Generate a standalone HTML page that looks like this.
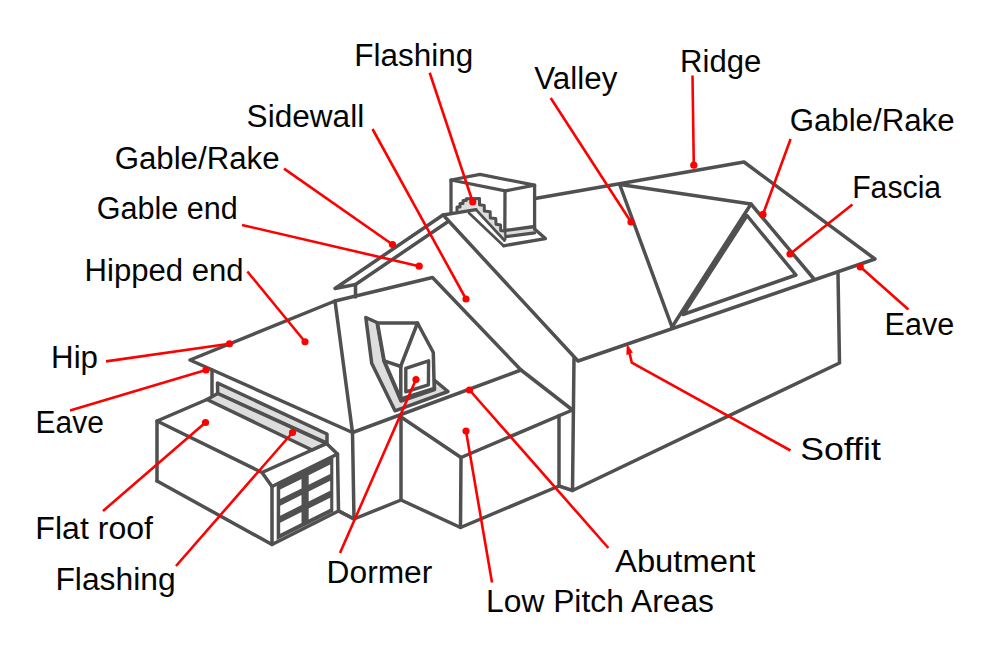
<!DOCTYPE html>
<html><head><meta charset="utf-8"><style>
html,body{margin:0;padding:0;background:#fff;width:1000px;height:660px;overflow:hidden}
svg{display:block}
</style></head><body>
<svg width="1000" height="660" viewBox="0 0 1000 660">
<rect width="1000" height="660" fill="#fff"/>
<g stroke="#505050" stroke-width="3.5" fill="none" stroke-linejoin="round" stroke-linecap="round">
<!-- main right section -->
<polyline points="535,198.5 744,162 875,259 578,361 445,217"/>
<polyline points="574,358 572.5,490.5 839.5,363 838,273.5"/>
<polyline points="619.5,184 672,327"/>
<polyline points="620,184.5 751,204 814,279"/>
<polyline points="751,204 672,327"/>
<polygon points="747,215.5 683,314.5 796,275"/>
<!-- left gable -->
<polyline points="447.5,222 355.5,284.5 335,288.5 443,215"/>
<polyline points="355.5,285 355.5,297"/>
<!-- hip roof -->
<polygon points="190,360 335,301 352.5,432.5"/>
<polyline points="335,301 432.5,277.5 521,370 352.5,432.5"/>
<polyline points="212,370 212,395"/>
<polyline points="352.5,432.5 354,519"/>
<polyline points="339,511 354,519 401,500"/>
<!-- low pitch -->
<polyline points="401,417 461,457.5 572.5,410 521,370"/>
<polyline points="401,417 401,500 460.5,527.5 559,486 572.5,490.5"/>
<polyline points="461,457.5 460.5,527.5"/>
<polyline points="559,415.5 559,486"/>
<!-- garage -->
<polygon points="217.5,383 327,434 327,443 217.7,393.5" fill="#ddd"/>
<polygon points="207,399.5 217.7,393.5 326.5,443.5 312,450" fill="#ddd"/>
<polyline points="157,481 157,421 207,399.5"/>
<polyline points="157,421 262,472.5 326.5,443.5 337.5,454 272,486.5 262,472.5"/>
<polyline points="272,486.5 272,544.5 338.5,511 337.5,454"/>
<polyline points="157,481 272,544.5"/>
<polyline points="338.5,511 354,519"/>
<!-- chimney -->
<g stroke-width="3.3">
<polygon points="469,213 503.5,245.8 545.4,238.6 534.6,229 505.4,231" fill="#fff" stroke="none"/>
<polygon points="505.4,231.5 534.6,227.5 534.6,232.9 505.4,236.7" fill="#ddd" stroke="none"/>
<polyline points="505.4,236.7 534.6,232.9"/>
<polyline points="469,213 503.5,245.8" stroke-width="2.7"/>
<polyline points="503.5,245.8 545.4,238.6 534.6,229"/>
<polygon points="451,180 480,174.4 534.6,185.2 505.4,190.9" fill="#fff"/>
<polyline points="451,180 451,212.5"/>
<polyline points="505,190.9 504.8,239"/>
<polyline points="534.6,185.2 534.6,229"/>
<polyline points="505.4,230.4 534.6,226.5"/>
<polygon points="457,210 457,207 460,207 460,203.5 463,203.5 463,200.5 466.2,200.5 466.2,198.8 479.5,198.5 479.5,204.7 484.3,205.4 484.3,211 490.2,211.7 490.3,218 495.8,218.6 496,224.2 500.6,225 500.7,230.5 504,231 504.5,240.5 476,209.6" fill="#ddd" stroke="none"/>
<polyline points="457,210.5 457,207 460,207 460,203.5 463,203.5 463,200.5 466.2,200.5 466.2,198.8 479.5,198.5 479.5,204.7 484.3,205.4 484.3,211 490.2,211.7 490.3,218 495.8,218.6 496,224.2 500.6,225 500.7,230.5 504,231" stroke-width="3"/>
<polyline points="443,215 476,209.6"/>
<polyline points="476,209.6 504.5,240.5" stroke-width="2.7"/>
</g>
<!-- dormer -->
<polygon points="365.8,317.5 377,322.5 384,361 401,401 434.5,389.5 434.2,380 448,391.5 395,410.8 371.7,363.3" fill="#ddd"/>
<polygon points="377.5,323 417.5,323 433.3,352.5 434.2,388.5 400.8,399 384.2,360.8" fill="#fff"/>
<polyline points="417.5,323 400.8,366 400.8,399"/>
<polyline points="384.2,360.8 400.8,366.5"/>
<polygon points="405.8,368.3 428.6,360.8 428.4,384.8 405.8,391.8" stroke-width="3.4"/>
</g>
<!-- garage door -->
<g transform="matrix(1,-0.5,0,1,276.7,484.5)">
<rect x="0" y="0" width="56.6" height="55.5" fill="#505050"/>
<g fill="#fff">
<rect x="3.5" y="6.8" width="21.3" height="9.5"/>
<rect x="32" y="6.8" width="21.5" height="9.5"/>
<rect x="3.5" y="23" width="21.3" height="10"/>
<rect x="32" y="23" width="21.5" height="10"/>
<rect x="3.5" y="40" width="21.3" height="11"/>
<rect x="32" y="40" width="21.5" height="11"/>
</g>
</g>

<g stroke="#fe0000" stroke-width="2.6" fill="none" stroke-linecap="butt">
<line x1="429.7" y1="72.75" x2="472.75" y2="202"/><line x1="372.5" y1="129" x2="466" y2="299"/><line x1="284" y1="168.6" x2="392.5" y2="244.5"/><line x1="242" y1="225" x2="419.2" y2="266.2"/><line x1="247.4" y1="271.5" x2="305" y2="341.75"/><line x1="106" y1="361.4" x2="229.5" y2="343.75"/><line x1="70" y1="410.4" x2="206" y2="370"/><line x1="103" y1="511" x2="205.5" y2="422.5"/><line x1="176" y1="566" x2="292.5" y2="432.5"/><line x1="340" y1="553" x2="416" y2="379.5"/><line x1="492" y1="582.5" x2="466" y2="431"/><line x1="608.4" y1="548" x2="469.5" y2="390"/><line x1="908.4" y1="309.5" x2="860.2" y2="266.8"/><line x1="852.4" y1="204.4" x2="790" y2="254"/><line x1="790.6" y1="139" x2="763" y2="214.4"/><line x1="692.5" y1="75.5" x2="693.8" y2="165.2"/><line x1="550.7" y1="98" x2="631" y2="222"/><polyline points="790.5,450.5 631.8,362.7 628.6,349"/>
</g>
<g fill="#fe0000"><circle cx="472.75" cy="202" r="3.6"/><circle cx="466" cy="299" r="3.6"/><circle cx="392.5" cy="244.5" r="3.6"/><circle cx="419.2" cy="266.2" r="3.6"/><circle cx="305" cy="341.75" r="3.6"/><circle cx="229.5" cy="343.75" r="3.6"/><circle cx="206" cy="370" r="3.6"/><circle cx="205.5" cy="422.5" r="3.6"/><circle cx="292.5" cy="432.5" r="3.6"/><circle cx="416" cy="379.5" r="3.6"/><circle cx="466" cy="431" r="3.6"/><circle cx="469.5" cy="390" r="3.6"/><circle cx="860.2" cy="266.8" r="3.6"/><circle cx="790" cy="254" r="3.6"/><circle cx="763" cy="214.4" r="3.6"/><circle cx="693.8" cy="165.2" r="3.6"/><circle cx="631" cy="222" r="3.6"/></g>
<polygon points="627,344 626.6,354.8 632.6,352.4" fill="#fe0000" stroke="#fe0000" stroke-width="0.4" stroke-linejoin="round"/>
<g font-family="Liberation Sans, sans-serif" font-size="31" fill="#050505">
<text x="354.30" y="66.3" textLength="118.91" lengthAdjust="spacingAndGlyphs">Flashing</text><text x="246.63" y="126.6" textLength="117.54" lengthAdjust="spacingAndGlyphs">Sidewall</text><text x="114.65" y="168.6" textLength="164.93" lengthAdjust="spacingAndGlyphs">Gable/Rake</text><text x="96.69" y="219.0" textLength="140.93" lengthAdjust="spacingAndGlyphs">Gable end</text><text x="84.58" y="280.5" textLength="159.07" lengthAdjust="spacingAndGlyphs">Hipped end</text><text x="51.07" y="367.6" textLength="46.91" lengthAdjust="spacingAndGlyphs">Hip</text><text x="35.59" y="433.0" textLength="68.25" lengthAdjust="spacingAndGlyphs">Eave</text><text x="35.39" y="538.6" textLength="117.60" lengthAdjust="spacingAndGlyphs">Flat roof</text><text x="55.42" y="590.0" textLength="120.17" lengthAdjust="spacingAndGlyphs">Flashing</text><text x="326.63" y="583.0" textLength="105.66" lengthAdjust="spacingAndGlyphs">Dormer</text><text x="615.00" y="572.0" textLength="140.40" lengthAdjust="spacingAndGlyphs">Abutment</text><text x="486.02" y="611.6" textLength="227.97" lengthAdjust="spacingAndGlyphs">Low Pitch Areas</text><text x="800.27" y="460.4" textLength="80.56" lengthAdjust="spacingAndGlyphs">Soffit</text><text x="884.53" y="335.0" textLength="69.73" lengthAdjust="spacingAndGlyphs">Eave</text><text x="852.16" y="198.0" textLength="89.02" lengthAdjust="spacingAndGlyphs">Fascia</text><text x="789.65" y="131.0" textLength="164.93" lengthAdjust="spacingAndGlyphs">Gable/Rake</text><text x="680.09" y="71.6" textLength="81.17" lengthAdjust="spacingAndGlyphs">Ridge</text><text x="534.30" y="88.5" textLength="83.00" lengthAdjust="spacingAndGlyphs">Valley</text>
</g>
</svg>
</body></html>
